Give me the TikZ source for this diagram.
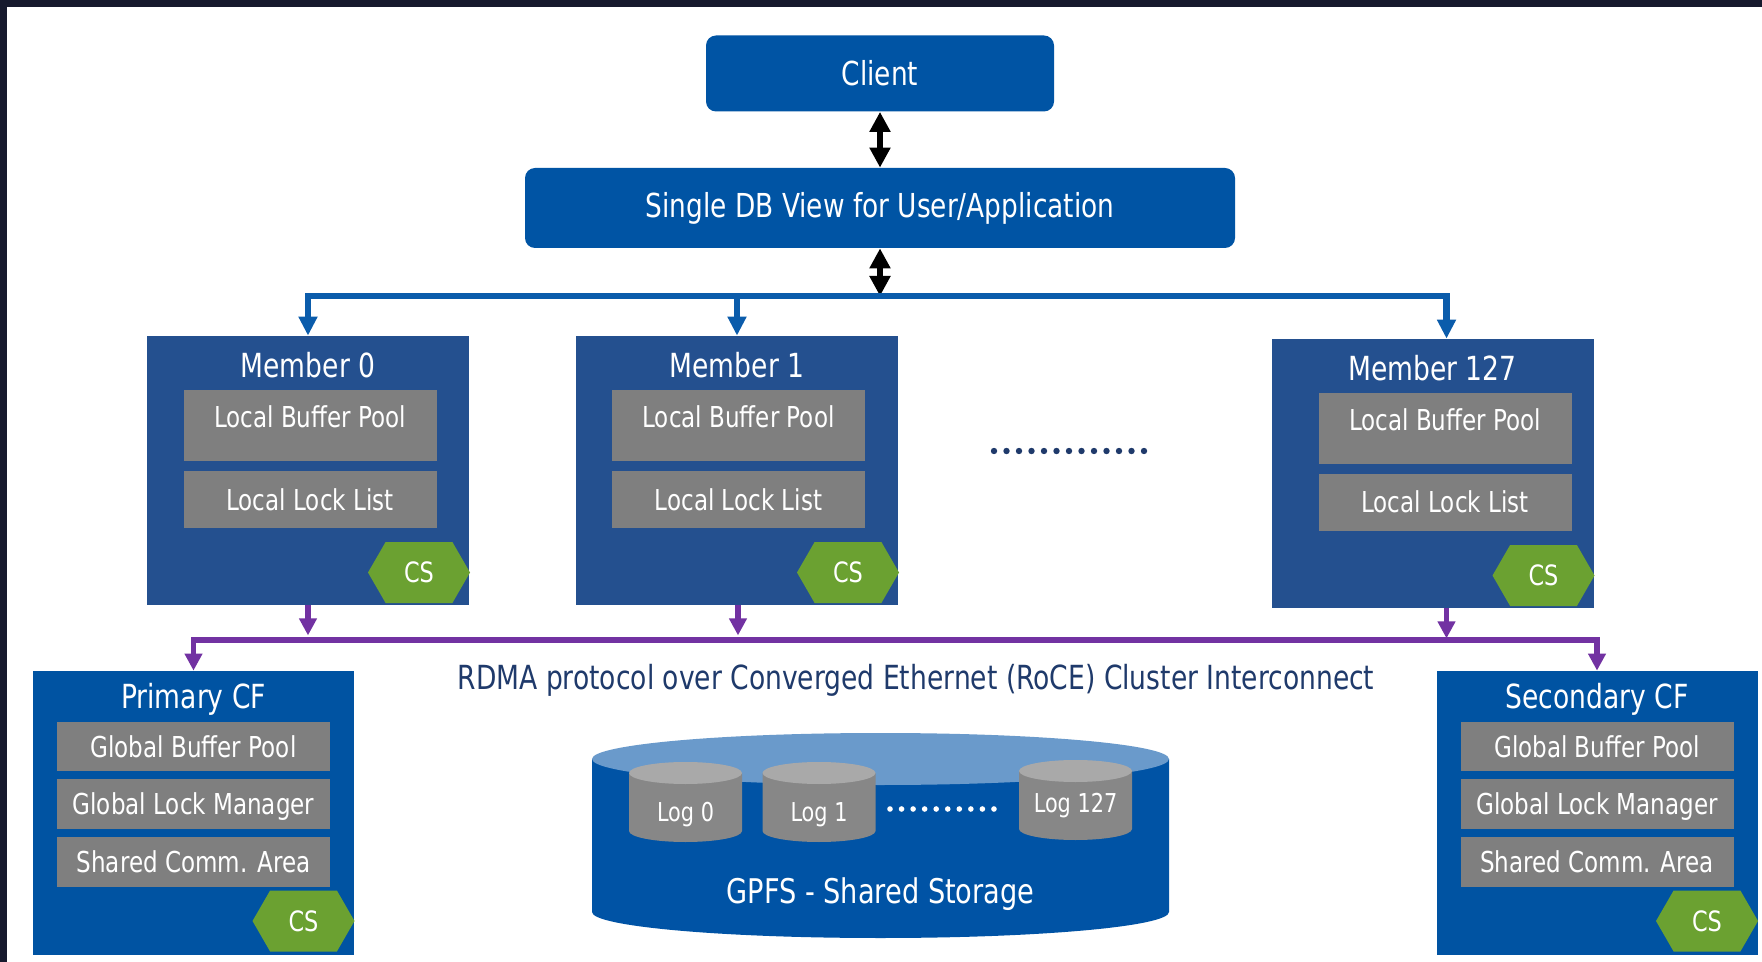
\documentclass[tikz,border=0pt]{standalone}
\usepackage{fontspec}
\setmainfont{DejaVu Sans}[FakeStretch=0.8]
\usetikzlibrary{arrows.meta,shapes.symbols,positioning}

\definecolor{darkbg}{HTML}{161A2E}
\definecolor{topblue}{HTML}{0054A4}
\definecolor{memberblue}{HTML}{24508F}
\definecolor{cfblue}{HTML}{0053A2}
\definecolor{boxgray}{HTML}{7F7F7F}
\definecolor{csgreen}{HTML}{6BA131}
\definecolor{busblue}{HTML}{0B5CAB}
\definecolor{linkpurple}{HTML}{7232A2}
\definecolor{gpfsblue}{HTML}{0053A5}
\definecolor{gpfstop}{HTML}{6A9ACB}
\definecolor{loggray}{HTML}{878787}
\definecolor{logtop}{HTML}{A9A9A9}
\definecolor{navy}{HTML}{1F3A6B}

\begin{document}
\begin{tikzpicture}[x=0.5pt,y=-0.5pt,
  topbox/.style={fill=topblue,rounded corners=5pt,text=white,font=\fontsize{16.5}{20}\selectfont},
  ttl/.style={text=white,font=\fontsize{16.6}{19}\selectfont,inner sep=0pt},
  memberbox/.style={fill=memberblue,minimum width=161pt,minimum height=134.5pt,inner sep=0pt},
  cfbox/.style={fill=cfblue,minimum width=160.5pt,minimum height=142pt,inner sep=0pt},
  graybox/.style={fill=boxgray,text=white,font=\fontsize{14.4}{17}\selectfont,text height=10.5pt,text depth=0pt,inner sep=0pt,minimum width=126.5pt},
  csbox/.style={shape=signal,signal to=east and west,signal pointer angle=120,fill=csgreen,text=white,font=\fontsize{14}{17}\selectfont,minimum width=51pt,minimum height=30.5pt,inner sep=0pt},
  logtxt/.style={text=white,font=\fontsize{13}{16}\selectfont,inner sep=0pt},
  dbllink/.style={line width=3pt,arrows={Triangle[width=10pt,length=10pt]-Triangle[width=10pt,length=10pt]}},
  bluelink/.style={busblue,line width=3.2pt,arrows={-Triangle[width=9pt,length=9.5pt]}},
  bluelinks/.style={bluelink,arrows={Triangle[width=9pt,length=9.5pt]-Triangle[width=9pt,length=9.5pt]}},
  purplelink/.style={linkpurple,line width=2.6pt,arrows={-Triangle[width=8.5pt,length=8.5pt]}},
  purplelinks/.style={purplelink,arrows={Triangle[width=8.5pt,length=8.5pt]-Triangle[width=8.5pt,length=8.5pt]}}]
  \useasboundingbox (0,0) rectangle (1762,962);
  \fill[darkbg] (0,0) rectangle (1762,962);
  \fill[white] (7,7) rectangle (1762,962);

  \node[topbox,minimum width=174pt,minimum height=38pt] (client) at (880,73.5) {Client};
  \node[topbox,minimum width=355pt,minimum height=40pt] (dbview) at (880,208) {Single DB View for User/Application};
  \coordinate (bus) at (880,296);
  \coordinate (pbus) at (880,640);

  \foreach \n/\mx/\my/\gx in {0/308/470.5/310,1/737/470.5/738.5,127/1432.5/473.5/1445}{
    \node[memberbox] (m\n) at (\mx,\my) {};
    \node[ttl] (mt\n) at ([yshift=-15pt]m\n.north) {Member \n};
    \node[graybox,minimum height=35.5pt,text depth=8.5pt] (lbp\n) at (\gx,{\my-45}) {Local Buffer Pool};
    \node[graybox,minimum height=28.5pt] (lll\n) at (\gx,{\my+29}) {Local Lock List};
    \node[csbox] (cs\n) at ({\mx+111},{\my+102}) {CS};
  }
  \foreach \i in {0,...,12}
    \fill[navy] ({994+\i*12.5},451) circle (1.6pt);

  \foreach \n/\cx/\lbl in {p/193.5/Primary CF,s/1597/Secondary CF}{
    \node[cfbox] (cf\n) at (\cx,813) {};
    \node[ttl] (cft\n) at ([yshift=-14.5pt]cf\n.north) {\lbl};
    \node[graybox,minimum width=136.5pt,minimum height=24.5pt] (gbp\n) at (\cx,746.5) {Global Buffer Pool};
    \node[graybox,minimum width=136.5pt,minimum height=25pt] (glm\n) at (\cx,804) {Global Lock Manager};
    \node[graybox,minimum width=136.5pt,minimum height=25pt] (sca\n) at (\cx,862) {Shared Comm. Area};
    \node[csbox] (cs\n) at ({\cx+110},921) {CS};
  }

  \node[text=navy,font=\fontsize{16.6}{19}\selectfont] (rdma) at (916,680) {RDMA protocol over Converged Ethernet (RoCE) Cluster Interconnect};

  \fill[gpfsblue] (592,759) -- (592,912) arc[start angle=180,end angle=0,x radius=288.5,y radius=26] -- (1169,759) -- cycle;
  \fill[gpfstop] (880.5,759) ellipse[x radius=288.5,y radius=26];
  \foreach \n/\lx/\ly/\ty in {0/685.5/773/815,1/819/773/815,127/1075.5/771/806}{
    \fill[loggray] ({\lx-56.5},\ly) -- ({\lx-56.5},{\ly+58}) arc[start angle=180,end angle=0,x radius=56.5,y radius=11] -- ({\lx+56.5},\ly) -- cycle;
    \fill[logtop] (\lx,\ly) ellipse[x radius=56.5,y radius=11];
    \node[logtxt] (log\n) at (\lx,\ty) {Log \n};
  }
  \foreach \i in {0,...,9}
    \fill[white] ({890+\i*11.55},809) circle (1.4pt);
  \node[text=white,font=\fontsize{17}{20}\selectfont] (gpfs) at (880.5,894) {GPFS - Shared Storage};

  \draw[dbllink] (client.south) -- (dbview.north);
  \draw[dbllink] (dbview.south) -- (bus);
  \draw[bluelinks] (m0.north) |- (bus) -| ([xshift=7pt]m127.north);
  \draw[bluelink] (bus) -| (m1.north);
  \draw[purplelinks] (cfp.north) |- (pbus) -| (cfs.north);
  \foreach \n/\ox in {0/0,1/0.5,127/7}
    \draw[purplelink] ([xshift=\ox pt]m\n.south) -- ++(0,30);
\end{tikzpicture}
\end{document}
